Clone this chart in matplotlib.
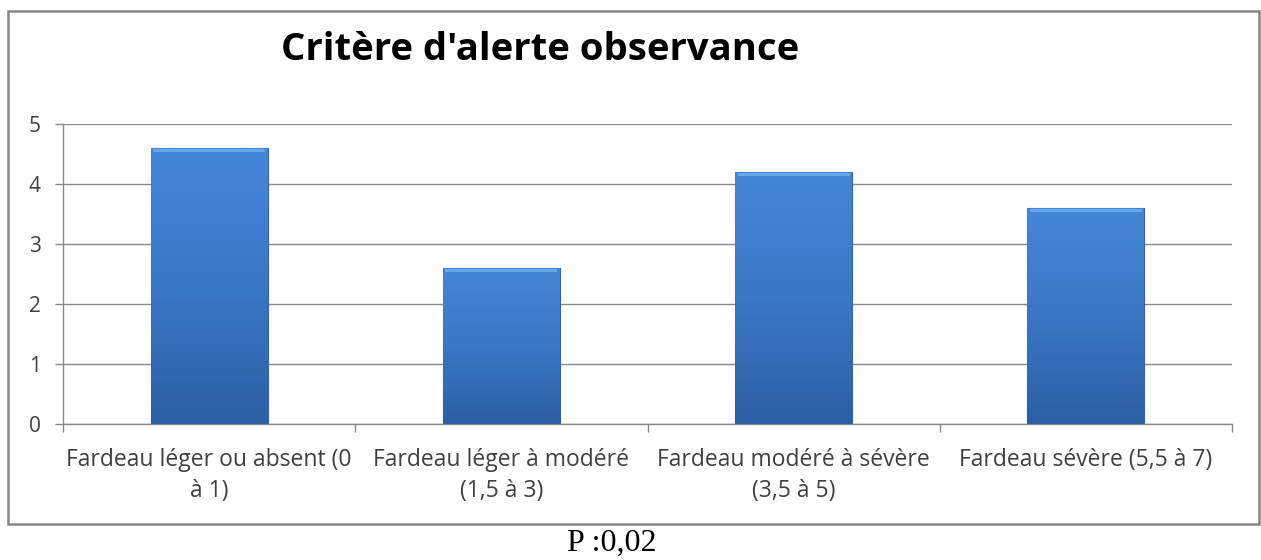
import numpy as np
import matplotlib.pyplot as plt
from matplotlib.patches import Rectangle

categories = [
    "Fardeau léger ou absent (0\nà 1)",
    "Fardeau léger à modéré\n(1,5 à 3)",
    "Fardeau modéré à sévère\n(3,5 à 5)",
    "Fardeau sévère (5,5 à 7)",
]
values = [4.6, 2.6, 4.2, 3.6]
y_ticks = [0, 1, 2, 3, 4, 5]

title = "Critère d'alerte observance"
note = "P :0,02"

W, H = 1261, 560
fig = plt.figure(figsize=(W / 100, H / 100), dpi=100)
fig.patch.set_facecolor("white")

# outer chart frame
frame = Rectangle((8 / W, 1 - 524 / H), (1259 - 8) / W, (524 - 11) / H,
                  transform=fig.transFigure, fill=False,
                  edgecolor="#878787", linewidth=1.8)
fig.add_artist(frame)

ax = fig.add_axes([63 / W, 1 - 424 / H, (1232 - 63) / W, 300 / H])
x = np.arange(len(categories))

bars = ax.bar(x, values, width=0.4, color="#3d7bcb",
              edgecolor="#2f64a8", linewidth=0.8, zorder=3)

# vertical shading inside each bar (lighter top, darker bottom)
grad = np.linspace(0, 1, 256).reshape(-1, 1)
cmap = plt.matplotlib.colors.LinearSegmentedColormap.from_list(
    "bar", ["#2c5fa3", "#3a77c6", "#4486d6"])
for b in bars:
    x0, y0 = b.get_x(), b.get_y()
    w, h = b.get_width(), b.get_height()
    im = ax.imshow(grad, extent=[x0, x0 + w, y0, y0 + h], origin="lower",
                   cmap=cmap, aspect="auto", zorder=3.5)
    im.set_clip_path(b)
    # light bevel along the top edge
    ax.add_patch(Rectangle((x0 + w * 0.02, y0 + h - 0.07), w * 0.96, 0.06,
                           facecolor="#6aa6ec", edgecolor="none", zorder=4))
ax.set_xlim(-0.5, len(categories) - 0.5)
ax.set_ylim(0, 5)

ax.set_yticks(y_ticks)
ax.yaxis.grid(True, color="#8a8a8a", linewidth=1.0, zorder=0)
ax.set_axisbelow(True)

ax.set_xticks(x)
ax.set_xticklabels(categories, fontsize=16.5, color="#404040",
                   family="Open Sans", linespacing=1.4)
ax.set_xticks(np.arange(-0.5, len(categories), 1.0), minor=True)
ax.tick_params(axis="x", which="major", length=0, pad=17)
ax.tick_params(axis="x", which="minor", length=6, color="#8a8a8a", width=1)
ax.tick_params(axis="y", length=6, color="#8a8a8a", width=1,
               labelsize=15, labelcolor="#404040", pad=10)
for lbl in ax.get_yticklabels():
    lbl.set_family("Open Sans")

for side in ("top", "right"):
    ax.spines[side].set_visible(False)
for side in ("left", "bottom"):
    ax.spines[side].set_color("#8a8a8a")
    ax.spines[side].set_linewidth(1.0)

fig.text(540 / W, 1 - 50 / H, title, ha="center", va="center",
         fontsize=27.5, fontweight="bold", family="Open Sans", color="black")
fig.text(612 / W, 1 - 543 / H, note, ha="center", va="center",
         fontsize=23, family="Liberation Serif", color="black")

fig.savefig("out.png", dpi=100, facecolor="white")
